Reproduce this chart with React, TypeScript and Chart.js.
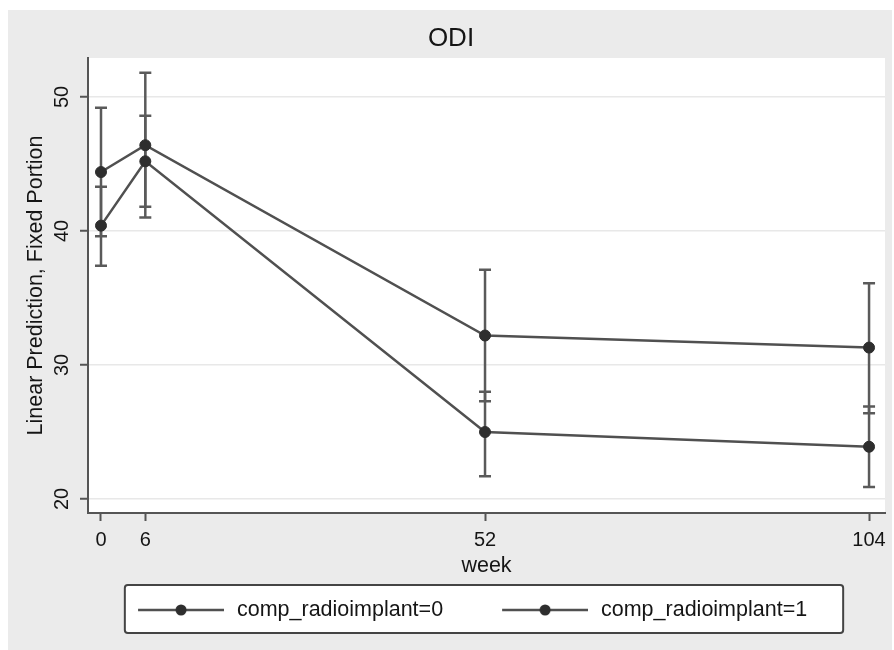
import React, { useEffect, useRef } from 'react';
import { Chart, registerables } from 'chart.js';

Chart.register(...registerables);

const FONT = "'Liberation Sans', Arial, Helvetica, sans-serif";
Chart.defaults.font.family = FONT;

// ---- data ----
const weeks = [0, 6, 52, 104];
const xTickValues = [0, 6, 52, 104];
const yTickValues = [20, 30, 40, 50];
const seriesNames = ['comp_radioimplant=0', 'comp_radioimplant=1'];
const mean0 = [44.4, 46.4, 32.2, 31.3];
const lower0 = [39.6, 41.0, 27.3, 26.4];
const upper0 = [49.2, 51.8, 37.1, 36.1];
const mean1 = [40.4, 45.2, 25.0, 23.9];
const lower1 = [37.4, 41.8, 21.7, 20.9];
const upper1 = [43.3, 48.6, 28.0, 26.9];
const titleText = 'ODI';
const xTitle = 'week';
const yTitle = 'Linear Prediction, Fixed Portion';

const LINE = '#505050';
const DOT = '#2e2e2e';
const AXIS = '#555555';
const TEXT = '#151515';

function makeLegendImage() {
  const c = document.createElement('canvas');
  c.width = 127;
  c.height = 16;
  const g = c.getContext('2d');
  if (g) {
    g.strokeStyle = LINE;
    g.lineWidth = 2.5;
    g.beginPath();
    g.moveTo(41, 8);
    g.lineTo(127, 8);
    g.stroke();
    g.fillStyle = DOT;
    g.beginPath();
    g.arc(84, 8, 5.5, 0, Math.PI * 2);
    g.fill();
  }
  return c;
}

const backgroundPlugin = {
  id: 'bgPlugin',
  beforeDraw(chart: any) {
    const { ctx, width, height, chartArea: ca } = chart;
    ctx.save();
    ctx.fillStyle = '#ffffff';
    ctx.fillRect(0, 0, width, height);
    ctx.fillStyle = '#ebebeb';
    ctx.fillRect(8, 10, 884, height - 10);
    ctx.fillStyle = '#ffffff';
    ctx.fillRect(ca.left, ca.top, ca.right - ca.left, ca.bottom - ca.top);
    // legend frame
    const lg = chart.legend;
    const hb = lg && lg.legendHitBoxes;
    let left = 125, right = 843, top = 585, bottom = 633;
    if (hb && hb.length >= 2) {
      const cy = hb[0].top + hb[0].height / 2;
      left = hb[0].left + 30;
      right = hb[hb.length - 1].left + hb[hb.length - 1].width + 36;
      top = cy - 25;
      bottom = cy + 23;
    }
    ctx.beginPath();
    if ((ctx as any).roundRect) (ctx as any).roundRect(left, top, right - left, bottom - top, 3);
    else ctx.rect(left, top, right - left, bottom - top);
    ctx.fillStyle = '#ffffff';
    ctx.fill();
    ctx.lineWidth = 2;
    ctx.strokeStyle = '#444444';
    ctx.stroke();
    ctx.restore();
  },
};

const errorBarPlugin = {
  id: 'errorBars',
  beforeDatasetsDraw(chart: any) {
    const { ctx, scales } = chart;
    const xs = scales.x;
    const ys = scales.y;
    const groups = [
      { lo: lower0, hi: upper0 },
      { lo: lower1, hi: upper1 },
    ];
    ctx.save();
    ctx.strokeStyle = '#5a5a5a';
    ctx.lineWidth = 2.5;
    groups.forEach((g) => {
      weeks.forEach((w, i) => {
        const x = xs.getPixelForValue(w);
        const y1 = ys.getPixelForValue(g.lo[i]);
        const y2 = ys.getPixelForValue(g.hi[i]);
        ctx.beginPath();
        ctx.moveTo(x, y1);
        ctx.lineTo(x, y2);
        ctx.moveTo(x - 6, y1);
        ctx.lineTo(x + 6, y1);
        ctx.moveTo(x - 6, y2);
        ctx.lineTo(x + 6, y2);
        ctx.stroke();
      });
    });
    ctx.restore();
  },
};

const yLabelPlugin = {
  id: 'yRotLabels',
  afterDraw(chart: any) {
    const { ctx, scales } = chart;
    const ys = scales.y;
    ctx.save();
    ctx.fillStyle = TEXT;
    ctx.font = `20px ${FONT}`;
    ctx.textAlign = 'center';
    ctx.textBaseline = 'middle';
    yTickValues.forEach((v) => {
      const y = ys.getPixelForValue(v);
      ctx.save();
      ctx.translate(62, y);
      ctx.rotate(-Math.PI / 2);
      ctx.fillText(String(v), 0, 0);
      ctx.restore();
    });
    ctx.restore();
  },
};

export default function App() {
  const ref = useRef<HTMLCanvasElement | null>(null);

  useEffect(() => {
    if (!ref.current) return;
    const legendImg = makeLegendImage();
    const ds = (label: string, vals: number[]) => ({
      label,
      data: weeks.map((w, i) => ({ x: w, y: vals[i] })),
      borderColor: LINE,
      backgroundColor: DOT,
      borderWidth: 2.5,
      pointRadius: 5.5,
      pointBackgroundColor: DOT,
      pointBorderColor: DOT,
      pointBorderWidth: 1,
      tension: 0,
      fill: false,
      xAxisID: 'x',
      yAxisID: 'y',
    });
    const chart = new Chart(ref.current, {
      type: 'line',
      data: {
        datasets: [ds(seriesNames[0], mean0), ds(seriesNames[1], mean1)],
      },
      plugins: [backgroundPlugin, errorBarPlugin, yLabelPlugin],
      options: {
        responsive: false,
        animation: false,
        devicePixelRatio: 1,
        layout: { padding: { left: 8, right: 0, top: 10, bottom: 19.25 } },
        plugins: {
          title: {
            display: true,
            text: titleText,
            color: TEXT,
            font: { size: 26, weight: 'normal' },
            padding: { top: 13.4, bottom: 3.4 },
          },
          legend: {
            display: true,
            position: 'bottom',
            align: 'center',
            labels: {
              usePointStyle: true,
              pointStyle: legendImg as any,
              pointStyleWidth: 131.35,
              padding: 15.8,
              color: TEXT,
              font: { size: 21.5 },
            },
          },
          tooltip: { enabled: false },
        },
        scales: {
          x: {
            type: 'linear',
            min: -1.76,
            max: 106.16,
            afterBuildTicks: (s: any) => {
              s.ticks = xTickValues.map((v) => ({ value: v }));
            },
            afterFit: (s: any) => {
              s.height = 70.45;
            },
            grid: {
              drawOnChartArea: false,
              drawTicks: true,
              tickLength: 8,
              tickColor: AXIS,
              tickWidth: 2,
            },
            border: { color: AXIS, width: 2 },
            ticks: {
              color: TEXT,
              font: { size: 20 },
              padding: 7,
              maxRotation: 0,
              minRotation: 0,
              autoSkip: false,
            },
            title: {
              display: true,
              text: xTitle,
              color: TEXT,
              font: { size: 21.5 },
              padding: { top: 0, bottom: 4.55 },
            },
          },
          y: {
            type: 'linear',
            position: 'left',
            min: 18.955,
            max: 52.91,
            afterBuildTicks: (s: any) => {
              s.ticks = yTickValues.map((v) => ({ value: v }));
            },
            afterFit: (s: any) => {
              s.width = 80;
            },
            grid: {
              color: '#e8e8e8',
              lineWidth: 1.5,
              drawTicks: true,
              tickLength: 8,
              tickColor: AXIS,
              tickWidth: 2,
            },
            border: { color: AXIS, width: 2 },
            ticks: { display: false },
            title: {
              display: true,
              text: yTitle,
              color: TEXT,
              font: { size: 21.5 },
              padding: { top: 15.1, bottom: 0 },
            },
          },
          y2: {
            type: 'linear',
            position: 'right',
            display: true,
            grid: { display: false, drawTicks: false },
            border: { display: false },
            ticks: { display: false },
            afterFit: (s: any) => {
              s.width = 9;
            },
          },
        },
      } as any,
    });
    return () => chart.destroy();
  }, []);

  return (
    <div style={{ position: 'fixed', left: 0, top: 0, width: 894, height: 650 }}>
      <canvas ref={ref} width={894} height={650} style={{ display: 'block' }} />
    </div>
  );
}
